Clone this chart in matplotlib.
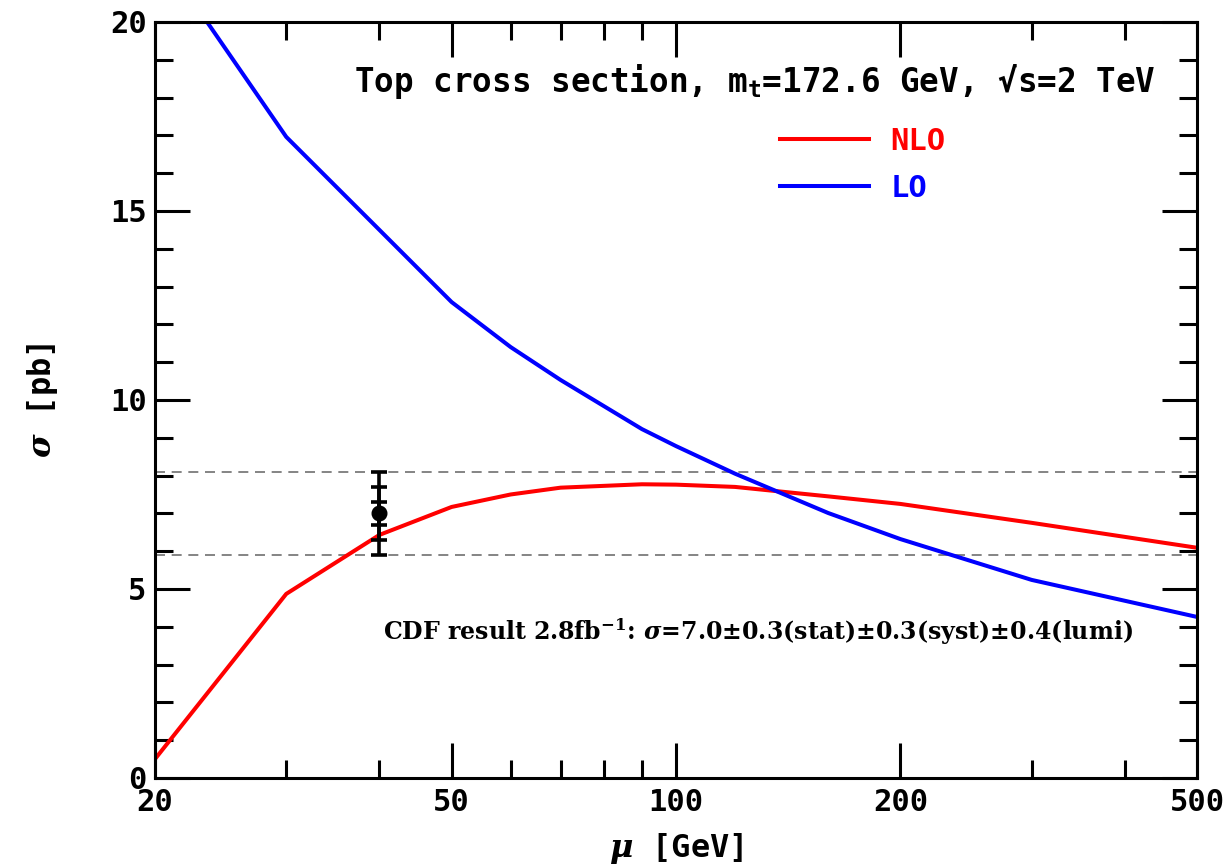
import numpy as np
import matplotlib
matplotlib.use('Agg')
import matplotlib.pyplot as plt

plt.rcParams['font.family'] = 'DejaVu Sans Mono'
plt.rcParams['font.weight'] = 'bold'
plt.rcParams['axes.labelweight'] = 'bold'
plt.rcParams['mathtext.fontset'] = 'custom'
plt.rcParams['mathtext.rm'] = 'DejaVu Sans Mono:bold'
plt.rcParams['mathtext.bf'] = 'DejaVu Sans Mono:bold'
plt.rcParams['mathtext.it'] = 'DejaVu Serif:italic:bold'
plt.rcParams['mathtext.sf'] = 'DejaVu Serif:bold'

# scale mu [GeV]
mu = [20, 30, 40, 50, 60, 70, 90, 100, 120, 160, 200, 300, 500]
# NLO and LO cross sections [pb]
sigma_nlo = [0.50, 4.87, 6.43, 7.17, 7.50, 7.68, 7.77, 7.76, 7.70, 7.45, 7.25, 6.75, 6.09]
sigma_lo = [22.0, 16.96, 14.50, 12.59, 11.40, 10.53, 9.23, 8.78, 8.05, 7.01, 6.32, 5.24, 4.26]

# CDF measurement
cdf_mu = 40
cdf_sigma = 7.0
cdf_errs = [1.1, 0.7, 0.3]   # total, stat+syst, stat
band_lo, band_hi = 5.9, 8.1

fig = plt.figure(figsize=(12.29, 8.65), dpi=100)
ax = fig.add_axes([0.1261, 0.1006, 0.8479, 0.8740])

ax.axhline(band_hi, color='#707070', lw=1.2, ls=(0, (6, 4)))
ax.axhline(band_lo, color='#707070', lw=1.2, ls=(0, (6, 4)))

ax.plot(mu, sigma_nlo, color='#ff0000', lw=2.9, label='NLO')
ax.plot(mu, sigma_lo, color='#0000ff', lw=2.9, label='LO')

for e in cdf_errs:
    ax.errorbar([cdf_mu], [cdf_sigma], yerr=[e], fmt='none', ecolor='black',
                elinewidth=2.6, capsize=5.5, capthick=2.6)
ax.plot([cdf_mu], [cdf_sigma], 'o', color='black', ms=10.5)

ax.set_xscale('log')
ax.set_xlim(20, 500)
ax.set_ylim(0, 20)

ax.set_xticks([20, 50, 100, 200, 500])
ax.set_xticklabels(['20', '50', '100', '200', '500'])
ax.set_xticks([30, 40, 60, 70, 80, 90, 300, 400], minor=True)
ax.set_xticklabels([], minor=True)
ax.set_yticks([0, 5, 10, 15, 20])
ax.set_yticks(np.arange(0, 21, 1), minor=True)

ax.tick_params(which='both', direction='in', top=True, right=True, width=2.2,
               labelsize=22)
ax.tick_params(which='major', length=25)
ax.tick_params(which='minor', length=13)
ax.tick_params(axis='y', pad=6)
ax.tick_params(axis='x', pad=7)
for s in ax.spines.values():
    s.set_linewidth(2.2)

ax.set_xlabel(r'$\mu$ [GeV]', fontsize=23, labelpad=10)
ax.set_ylabel(r'$\sigma$ [pb]', fontsize=23, labelpad=36)

ax.text(0.96, 0.921, r'Top cross section, m$_\mathrm{t}$=172.6 GeV, √s=2 TeV',
        transform=ax.transAxes, ha='right', va='center', fontsize=23.5)

ax.text(0.579, 0.193,
        r'CDF result 2.8fb$^{\mathsf{-1}}$: $\sigma$=7.0±0.3(stat)±0.3(syst)±0.4(lumi)',
        transform=ax.transAxes, ha='center', va='center', fontsize=17,
        family='DejaVu Serif')

leg = ax.legend(loc='upper left', bbox_to_anchor=(0.60, 0.861), frameon=False,
                fontsize=22, handlelength=2.9, handletextpad=0.7,
                labelspacing=0.58, borderpad=0, borderaxespad=0,
                labelcolor='linecolor')

fig.savefig('out.png', dpi=100)
